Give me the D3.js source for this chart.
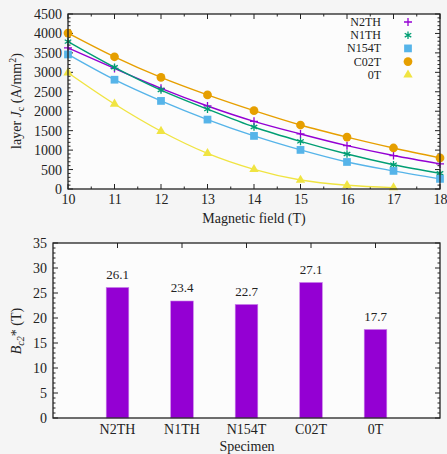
<!DOCTYPE html>
<html>
<head>
<meta charset="utf-8">
<script src="https://d3js.org/d3.v7.min.js"></script>
<style>
  body { margin: 0; background: #f5f5f5; }
  svg { font-family: "Liberation Serif", "DejaVu Serif", serif; }
</style>
</head>
<body>
<script>
// field values (T)
const fields = [10, 11, 12, 13, 14, 15, 16, 17, 18];
// layer Jc (A/mm^2) per specimen
const jcN2TH  = [3630, 3100, 2590, 2135, 1740, 1415, 1115, 860, 645];
const jcN1TH  = [3790, 3130, 2545, 2055, 1595, 1225, 900, 625, 405];
const jcN154T = [3460, 2810, 2265, 1785, 1365, 1005, 695, 465, 260];
const jcC02T  = [4010, 3400, 2870, 2420, 2015, 1645, 1335, 1055, 800];
const jc0T    = [2990, 2185, 1485, 915, 505, 230, 95, 35];

// Bc2* per specimen
const specimens = ["N2TH", "N1TH", "N154T", "C02T", "0T"];
const bc2 = [26.1, 23.4, 22.7, 27.1, 17.7];

const series = [
  { name: "N2TH",  values: jcN2TH,  color: "#9400d3", sym: "plus" },
  { name: "N1TH",  values: jcN1TH,  color: "#009e73", sym: "star" },
  { name: "N154T", values: jcN154T, color: "#56b4e9", sym: "square" },
  { name: "C02T",  values: jcC02T,  color: "#e69f00", sym: "circle" },
  { name: "0T",    values: jc0T,    color: "#f0e442", sym: "triangle" }
];

const svg = d3.select("body").append("svg")
  .attr("width", 447).attr("height", 454);

// draw a marker at (x, y)
function marker(g, type, x, y, color) {
  if (type === "plus") {
    g.append("path").attr("d", `M${x-4},${y}h8M${x},${y-4}v8`)
      .attr("stroke", color).attr("stroke-width", 1.3).attr("fill", "none");
  } else if (type === "star") {
    g.append("path").attr("d", d3.symbol(d3.symbolAsterisk, 40)())
      .attr("transform", `translate(${x},${y})`)
      .attr("stroke", color).attr("stroke-width", 1.3).attr("fill", "none");
  } else {
    const s = type === "square" ? d3.symbolSquare : type === "circle" ? d3.symbolCircle : d3.symbolTriangle;
    const size = type === "triangle" ? 38 : 60;
    g.append("path").attr("d", d3.symbol(s, size)())
      .attr("transform", `translate(${x},${y})`)
      .attr("fill", color);
  }
}

// ticks: major + minor, inward, on left and right sides
function ticksY(g, scale, xl, xr, major, minor, dom) {
  for (let v = dom[0]; v <= dom[1] + 1e-9; v += minor) {
    const isMaj = Math.abs(v / major - Math.round(v / major)) < 1e-6;
    const len = isMaj ? 5 : 2.5;
    g.append("line").attr("x1", xl).attr("x2", xl + len).attr("y1", scale(v)).attr("y2", scale(v))
      .attr("stroke", "#222").attr("stroke-width", 1);
    g.append("line").attr("x1", xr).attr("x2", xr - len).attr("y1", scale(v)).attr("y2", scale(v))
      .attr("stroke", "#222").attr("stroke-width", 1);
  }
}

// ---------- top chart ----------
const x1 = d3.scaleLinear().domain([10, 18]).range([68, 440]);
const y1 = d3.scaleLinear().domain([0, 4500]).range([189, 14]);

svg.append("rect").attr("x", 68).attr("y", 14).attr("width", 372).attr("height", 175)
  .attr("fill", "#fcfcfc");

const topG = svg.append("g");

ticksY(topG, y1, 68, 440, 500, 100, [0, 4500]);
for (let v = 10; v <= 18.001; v += 0.5) {
  const len = Number.isInteger(v) ? 5 : 2.5;
  topG.append("line").attr("x1", x1(v)).attr("x2", x1(v)).attr("y1", 189).attr("y2", 189 - len)
    .attr("stroke", "#222");
  topG.append("line").attr("x1", x1(v)).attr("x2", x1(v)).attr("y1", 14).attr("y2", 14 + len)
    .attr("stroke", "#222");
}

topG.append("g").attr("transform", "translate(68,0)")
  .call(d3.axisLeft(y1).tickValues(d3.range(0, 4501, 500)).tickFormat(d3.format("d"))
    .tickSize(0).tickPadding(6))
  .call(g => g.select(".domain").remove())
  .selectAll("text").attr("font-size", 14).attr("fill", "#222").attr("font-family", "Liberation Serif");
topG.append("g").attr("transform", "translate(0,189)")
  .call(d3.axisBottom(x1).ticks(8).tickSize(0).tickPadding(5))
  .call(g => g.select(".domain").remove())
  .selectAll("text").attr("font-size", 14).attr("fill", "#222").attr("font-family", "Liberation Serif");

const line = d3.line().curve(d3.curveMonotoneX)
  .x((d, i) => x1(fields[i])).y(d => y1(d));

series.forEach(s => {
  topG.append("path").attr("d", line(s.values))
    .attr("fill", "none").attr("stroke", s.color).attr("stroke-width", 1.4);
  s.values.forEach((v, i) => marker(topG, s.sym, x1(fields[i]), y1(v), s.color));
});

topG.append("rect").attr("x", 68).attr("y", 14).attr("width", 372).attr("height", 175)
  .attr("fill", "none").attr("stroke", "#222").attr("stroke-width", 1.3);

// legend
series.forEach((s, i) => {
  const ly = 22 + i * 13.2;
  topG.append("text").attr("x", 381).attr("y", ly + 4).attr("text-anchor", "end")
    .attr("font-size", 12).attr("fill", "#222").text(s.name);
  marker(topG, s.sym, 408, ly, s.color);
});

topG.append("text").attr("x", 254).attr("y", 223).attr("text-anchor", "middle")
  .attr("font-size", 14).attr("fill", "#222").text("Magnetic field (T)");
const yl1 = topG.append("text").attr("transform", "translate(21,101) rotate(-90)")
  .attr("text-anchor", "middle").attr("font-size", 14).attr("fill", "#222");
yl1.append("tspan").text("layer ");
yl1.append("tspan").attr("font-style", "italic").text("J");
yl1.append("tspan").attr("font-size", 10).attr("dy", 3).text("c");
yl1.append("tspan").attr("dy", -3).text(" (A/mm");
yl1.append("tspan").attr("font-size", 10).attr("dy", -5).text("2");
yl1.append("tspan").attr("dy", 5).text(")");

// ---------- bottom chart ----------
const x2 = d3.scaleLinear().domain([0, 6]).range([53, 440]);
const y2 = d3.scaleLinear().domain([0, 35]).range([418, 243]);

svg.append("rect").attr("x", 53).attr("y", 243).attr("width", 387).attr("height", 175)
  .attr("fill", "#fcfcfc");
const botG = svg.append("g");

ticksY(botG, y2, 53, 440, 5, 1, [0, 35]);
specimens.forEach((s, i) => {
  botG.append("line").attr("x1", x2(i + 1)).attr("x2", x2(i + 1)).attr("y1", 243).attr("y2", 248)
    .attr("stroke", "#222");
});

botG.append("g").attr("transform", "translate(53,0)")
  .call(d3.axisLeft(y2).tickValues(d3.range(0, 36, 5)).tickSize(0).tickPadding(6))
  .call(g => g.select(".domain").remove())
  .selectAll("text").attr("font-size", 14).attr("fill", "#222").attr("font-family", "Liberation Serif");

const bw = x2(0.35) - x2(0);
botG.selectAll(".bar").data(bc2).enter().append("rect")
  .attr("class", "bar")
  .attr("x", (d, i) => x2(i + 1) - bw / 2)
  .attr("y", d => y2(d))
  .attr("width", bw)
  .attr("height", d => y2(0) - y2(d))
  .attr("fill", "#9400d3")
  .attr("stroke", "#c77ee8").attr("stroke-width", 0.6);

botG.selectAll(".val").data(bc2).enter().append("text")
  .attr("x", (d, i) => x2(i + 1))
  .attr("y", d => y2(d) - 9)
  .attr("text-anchor", "middle").attr("font-size", 13).attr("fill", "#222")
  .text(d => d.toFixed(1));

botG.selectAll(".cat").data(specimens).enter().append("text")
  .attr("x", (d, i) => x2(i + 1))
  .attr("y", 434)
  .attr("text-anchor", "middle").attr("font-size", 14).attr("fill", "#222")
  .text(d => d);

botG.append("rect").attr("x", 53).attr("y", 243).attr("width", 387).attr("height", 175)
  .attr("fill", "none").attr("stroke", "#222").attr("stroke-width", 1.3);

botG.append("text").attr("x", 247).attr("y", 451).attr("text-anchor", "middle")
  .attr("font-size", 14).attr("fill", "#222").text("Specimen");
const yl2 = botG.append("text").attr("transform", "translate(21,331) rotate(-90)")
  .attr("text-anchor", "middle").attr("font-size", 14).attr("fill", "#222");
yl2.append("tspan").attr("font-style", "italic").text("B");
yl2.append("tspan").attr("font-size", 10).attr("dy", 3).attr("font-style", "italic").text("c2");
yl2.append("tspan").attr("dy", -3).text("* (T)");
</script>
</body>
</html>
